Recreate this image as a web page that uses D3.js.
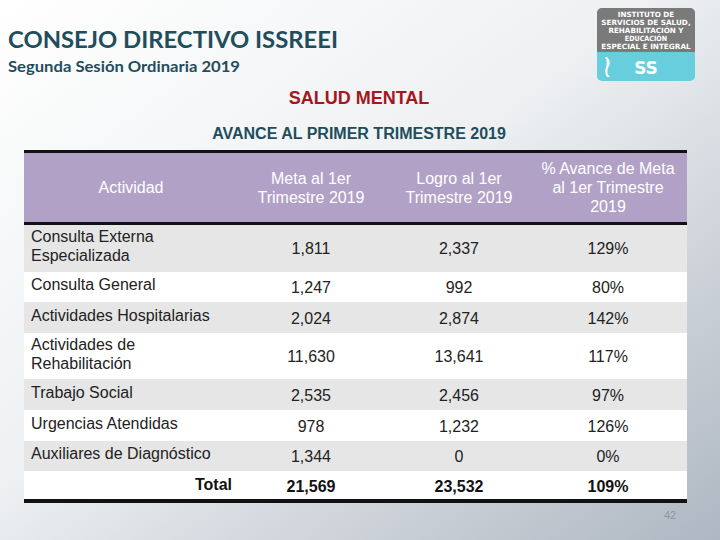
<!DOCTYPE html>
<html><head><meta charset="utf-8">
<script src="https://cdn.jsdelivr.net/npm/d3@7"></script>
<style>html,body{margin:0;padding:0;background:#fff;}svg{display:block;}</style>
</head><body>
<svg id="c" width="720" height="540"></svg>
<script>
const actividades = [["Consulta Externa","Especializada"],["Consulta General"],["Actividades Hospitalarias"],["Actividades de","Rehabilitación"],["Trabajo Social"],["Urgencias Atendidas"],["Auxiliares de Diagnóstico"]];
const meta = [1811, 1247, 2024, 11630, 2535, 978, 1344];
const logro = [2337, 992, 2874, 13641, 2456, 1232, 0];
const avance = [129, 80, 142, 117, 97, 126, 0];
const totalRow = {label: "Total", meta: 21569, logro: 23532, avance: 109};
const headers = [["Actividad"],["Meta al 1er","Trimestre 2019"],["Logro al 1er","Trimestre 2019"],["% Avance de Meta","al 1er Trimestre","2019"]];
const rowHeights = [48, 30, 31, 46, 31, 31, 30, 29];

const svg = d3.select("#c");
const defs = svg.append("defs");
const g1 = defs.append("linearGradient").attr("id","bg").attr("x1","0").attr("y1","0").attr("x2","1").attr("y2","1");
g1.append("stop").attr("offset","0").attr("stop-color","#ffffff");
g1.append("stop").attr("offset","0.45").attr("stop-color","#eef0f2");
g1.append("stop").attr("offset","1").attr("stop-color","#aeb7c2");
svg.append("rect").attr("width",720).attr("height",540).attr("fill","url(#bg)");

svg.append("text").attr("x",8).attr("y",48).attr("fill","#1f4d5c")
  .attr("font-family","Lato, 'Open Sans', sans-serif").attr("font-weight","bold").attr("font-size",23)
  .attr("textLength",330).attr("lengthAdjust","spacingAndGlyphs").text("CONSEJO DIRECTIVO ISSREEI");
svg.append("text").attr("x",8).attr("y",72).attr("fill","#1f4d5c")
  .attr("font-family","Lato, 'Open Sans', sans-serif").attr("font-weight","bold").attr("font-size",15)
  .attr("textLength",232).attr("lengthAdjust","spacingAndGlyphs").text("Segunda Sesión Ordinaria 2019");
svg.append("text").attr("x",359).attr("y",104).attr("text-anchor","middle").attr("fill","#a3171d")
  .attr("font-family","'Liberation Sans', Arial, sans-serif").attr("font-weight","bold").attr("font-size",18).text("SALUD MENTAL");
svg.append("text").attr("x",359).attr("y",139).attr("text-anchor","middle").attr("fill","#1f4d5c")
  .attr("font-family","'Liberation Sans', Arial, sans-serif").attr("font-weight","bold").attr("font-size",16).text("AVANCE AL PRIMER TRIMESTRE 2019");

// logo
const logo = svg.append("g");
logo.append("rect").attr("x",597).attr("y",8).attr("width",98).attr("height",73).attr("rx",5).attr("fill","#66cedd");
logo.append("path").attr("d","M602,8 h88 a5,5 0 0 1 5,5 v39 h-98 v-39 a5,5 0 0 1 5,-5 z").attr("fill","#7a7a7a");
const logoLines = ["INSTITUTO DE","SERVICIOS DE SALUD,","REHABILITACIÓN Y","EDUCACIÓN","ESPECIAL E INTEGRAL"];
logo.selectAll("text.l").data(logoLines).join("text").attr("class","l")
  .attr("x",646).attr("y",(d,i)=>17+i*8).attr("text-anchor","middle").attr("fill","#fff")
  .attr("font-family","'DejaVu Sans', sans-serif").attr("font-weight","bold").attr("font-size",7.2)
  .attr("textLength",d=>Math.min(90,d.length*4.7)).attr("lengthAdjust","spacingAndGlyphs").text(d=>d);
logo.append("path").attr("d","M607,57 q5,5 1,11 q-2,5 2,9 l-3,0 q-3,-5 -1,-10 q2,-5 -1,-10 z").attr("fill","#fff");
logo.append("text").attr("x",646).attr("y",74).attr("text-anchor","middle").attr("fill","#fff")
  .attr("font-family","'DejaVu Sans', sans-serif").attr("font-weight","bold").attr("font-size",17).text("SS");

// table
const tableX0 = 24, tableX1 = 687;
const colCenters = [131, 311, 459, 608];
const headTop = 153, headBot = 222;

svg.append("rect").attr("x",tableX0).attr("y",headTop).attr("width",tableX1-tableX0).attr("height",headBot-headTop).attr("fill","#b2a1c7");
svg.append("rect").attr("x",tableX0).attr("y",150).attr("width",tableX1-tableX0).attr("height",3).attr("fill","#111");

const FF = "'Liberation Sans', Arial, sans-serif";
const FS = 16;
headers.forEach((lines,ci)=>{
  const n = lines.length, lh = 19;
  const cy = 193 - (n-1)*lh/2;
  svg.append("g").selectAll("text").data(lines).join("text")
    .attr("x",colCenters[ci]).attr("y",(d,i)=>cy+i*lh).attr("text-anchor","middle")
    .attr("fill","#fff").attr("font-family",FF).attr("font-size",FS).text(d=>d);
});

const rows = actividades.map((a,i)=>({label:a, meta:meta[i], logro:logro[i], avance:avance[i], total:false}));
rows.push({label:[totalRow.label], meta:totalRow.meta, logro:totalRow.logro, avance:totalRow.avance, total:true});
let y = headBot + 2;
rows.forEach((r,i)=>{ r.y0 = y; r.h = rowHeights[i]; y += rowHeights[i]; });
const fmt = d3.format(",");

const rg = svg.append("g").selectAll("g").data(rows).join("g");
rg.append("rect").attr("x",tableX0).attr("y",d=>d.y0).attr("width",tableX1-tableX0).attr("height",d=>d.h)
  .attr("fill",(d,i)=> i%2===0 && !d.total ? "#e6e6e6" : "#ffffff");
rg.each(function(d){
  const g = d3.select(this);
  const cy = d.y0 + d.h/2 + 5;
  const lh = 19;
  if (d.total) {
    g.append("text").attr("x",232).attr("y",cy-1).attr("text-anchor","end").attr("font-family",FF)
      .attr("font-weight","bold").attr("font-size",FS).attr("fill","#111").text(d.label[0]);
  } else {
    g.selectAll("text.lab").data(d.label).join("text").attr("class","lab")
      .attr("x",31).attr("y",(t,i)=>cy - (d.label.length-1)*lh/2 + i*lh - 2)
      .attr("font-family",FF).attr("font-size",FS).attr("fill","#222").text(t=>t);
  }
  const vals = [fmt(d.meta), fmt(d.logro), d.avance + "%"];
  g.selectAll("text.v").data(vals).join("text").attr("class","v")
    .attr("x",(t,i)=>colCenters[i+1]).attr("y",cy+1).attr("text-anchor","middle")
    .attr("font-family",FF).attr("font-size",FS).attr("font-weight",d.total?"bold":"normal")
    .attr("fill",d.total?"#111":"#222").text(t=>t);
});
svg.append("rect").attr("x",tableX0).attr("y",headBot).attr("width",tableX1-tableX0).attr("height",3).attr("fill","#111");
svg.append("rect").attr("x",tableX0).attr("y",y-1).attr("width",tableX1-tableX0).attr("height",4).attr("fill","#111");

svg.append("text").attr("x",670).attr("y",519).attr("text-anchor","middle").attr("fill","#8a96a6")
  .attr("font-family",FF).attr("font-size",11).text("42");
</script>
</body></html>
